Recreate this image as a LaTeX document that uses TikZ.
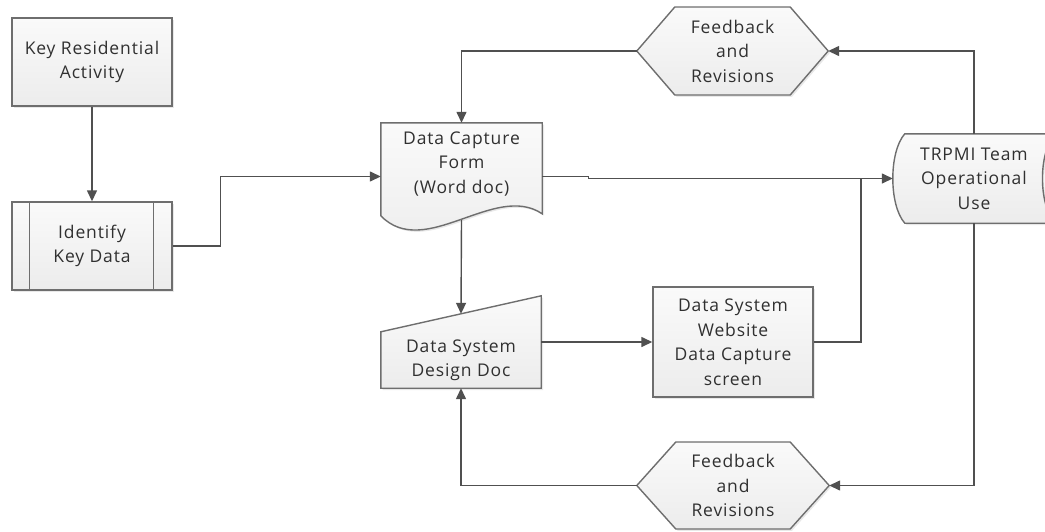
\documentclass[tikz,border=0pt]{standalone}
\usepackage{fontspec}
\setmainfont{Open Sans}[LetterSpace=5]
\usetikzlibrary{arrows.meta,shadows,calc}
\pgfdeclarelayer{bg}
\pgfsetlayers{bg,main}
\definecolor{edgec}{HTML}{6E6E6E}
\definecolor{wirec}{HTML}{505050}
\definecolor{inkc}{HTML}{303030}
\definecolor{filltop}{HTML}{FAFAFA}
\definecolor{fillbot}{HTML}{ECECEC}
\begin{document}
\begin{tikzpicture}[x=1pt,y=-1pt,
  shapefill/.style={draw=edgec,line width=1.4pt,top color=filltop,bottom color=fillbot,
    drop shadow={opacity=0.18,shadow xshift=1.8pt,shadow yshift=-1.8pt}},
  txt/.style={inner sep=0pt,align=center,text=inkc,font=\fontsize{17.5}{24.5}\selectfont},
  box/.style={shapefill,rectangle,txt},
  ghost/.style={rectangle,draw=none,txt},
  wire/.style={draw=wirec,line width=1.4pt},
  arr/.style={wire,-{Triangle[length=11pt,width=10pt]}},
]
\useasboundingbox (0,0) rectangle (1045,531);
\clip (0,0) rectangle (1045,531);

% rectangular nodes
\node[box,minimum width=160pt,minimum height=88pt] (kra) at (92,62) {Key Residential\\Activity};
\node[box,minimum width=160pt,minimum height=88pt] (ikd) at (92,246) {Identify\\Key Data};
\draw[draw=edgec,line width=1.4pt] ([xshift=18pt]ikd.north west) -- ([xshift=18pt]ikd.south west);
\draw[draw=edgec,line width=1.4pt] ([xshift=-19pt]ikd.north east) -- ([xshift=-19pt]ikd.south east);
\node[box,minimum width=160pt,minimum height=110pt] (web) at (733,342) {Data System\\Website\\Data Capture\\screen};

% special shapes (outline drawn on background layer)
\node[ghost,minimum width=161pt,minimum height=107pt] (dcf) at (461.5,176.5) {};
\node[txt] (dcft) at (461.5,164) {Data Capture\\Form\\(Word doc)};
\node[ghost,minimum width=160pt,minimum height=92pt] (dd) at (461,342) {};
\node[txt] (ddt) at (461,360.5) {Data System\\Design Doc};
\node[ghost,minimum width=191pt,minimum height=88pt] (hexT) at (732.5,51) {Feedback\\and\\Revisions};
\node[ghost,minimum width=192pt,minimum height=87pt] (hexB) at (733,485.5) {Feedback\\and\\Revisions};
\node[ghost,minimum width=162pt,minimum height=89pt] (trp) at (974,178.5) {TRPMI Team\\Operational\\Use};

\begin{pgfonlayer}{bg}
  \path[shapefill] (dcf.north west) -- (dcf.north east) -- ([shift={(0,91)}]dcf.north east)
    .. controls ([shift={(114,59)}]dcf.north west) and ([shift={(44,138)}]dcf.north west) ..
    ([shift={(0,93)}]dcf.north west) -- cycle;
  \path[shapefill] ([shift={(0,36)}]dd.north west) -- (dd.north east) -- (dd.south east) -- (dd.south west) -- cycle;
  \path[shapefill] (hexT.west) -- ([shift={(38,-44)}]hexT.west) -- ([shift={(-38,-44)}]hexT.east) -- (hexT.east)
    -- ([shift={(-38,44)}]hexT.east) -- ([shift={(38,44)}]hexT.west) -- cycle;
  \path[shapefill] (hexB.west) -- ([shift={(39,-43.5)}]hexB.west) -- ([shift={(-39,-43.5)}]hexB.east) -- (hexB.east)
    -- ([shift={(-39,43.5)}]hexB.east) -- ([shift={(39,43.5)}]hexB.west) -- cycle;
  \path[shapefill] ([xshift=12pt]trp.north west) -- (trp.north east)
    .. controls ([shift={(-17,18)}]trp.north east) and ([shift={(-17,-18)}]trp.south east) .. (trp.south east)
    -- ([xshift=12pt]trp.south west)
    .. controls ([shift={(-4,-18)}]trp.south west) and ([shift={(-4,18)}]trp.north west) .. ([xshift=12pt]trp.north west)
    -- cycle;
\end{pgfonlayer}

% connectors
\draw[arr] (kra) -- (ikd);
\draw[arr] (ikd.east) -- ++(48,0) |- (dcf.west);
\draw[arr] (hexT.west) -| (dcf.north);
\draw[arr] ([yshift=10pt]dcf.south) -- ([yshift=-18pt]dd.north);
\draw[arr] (dd.east) -- (web.west);
\draw[arr] (dcf.east) -- ++(46,0) |- (trp.west);
\draw[wire] (web.east) -| ([xshift=-32pt]trp.west);
\draw[arr] (trp.north) |- (hexT.east);
\draw[arr] (trp.south) |- (hexB.east);
\draw[arr] (hexB.west) -| (dd.south);
\end{tikzpicture}
\end{document}
